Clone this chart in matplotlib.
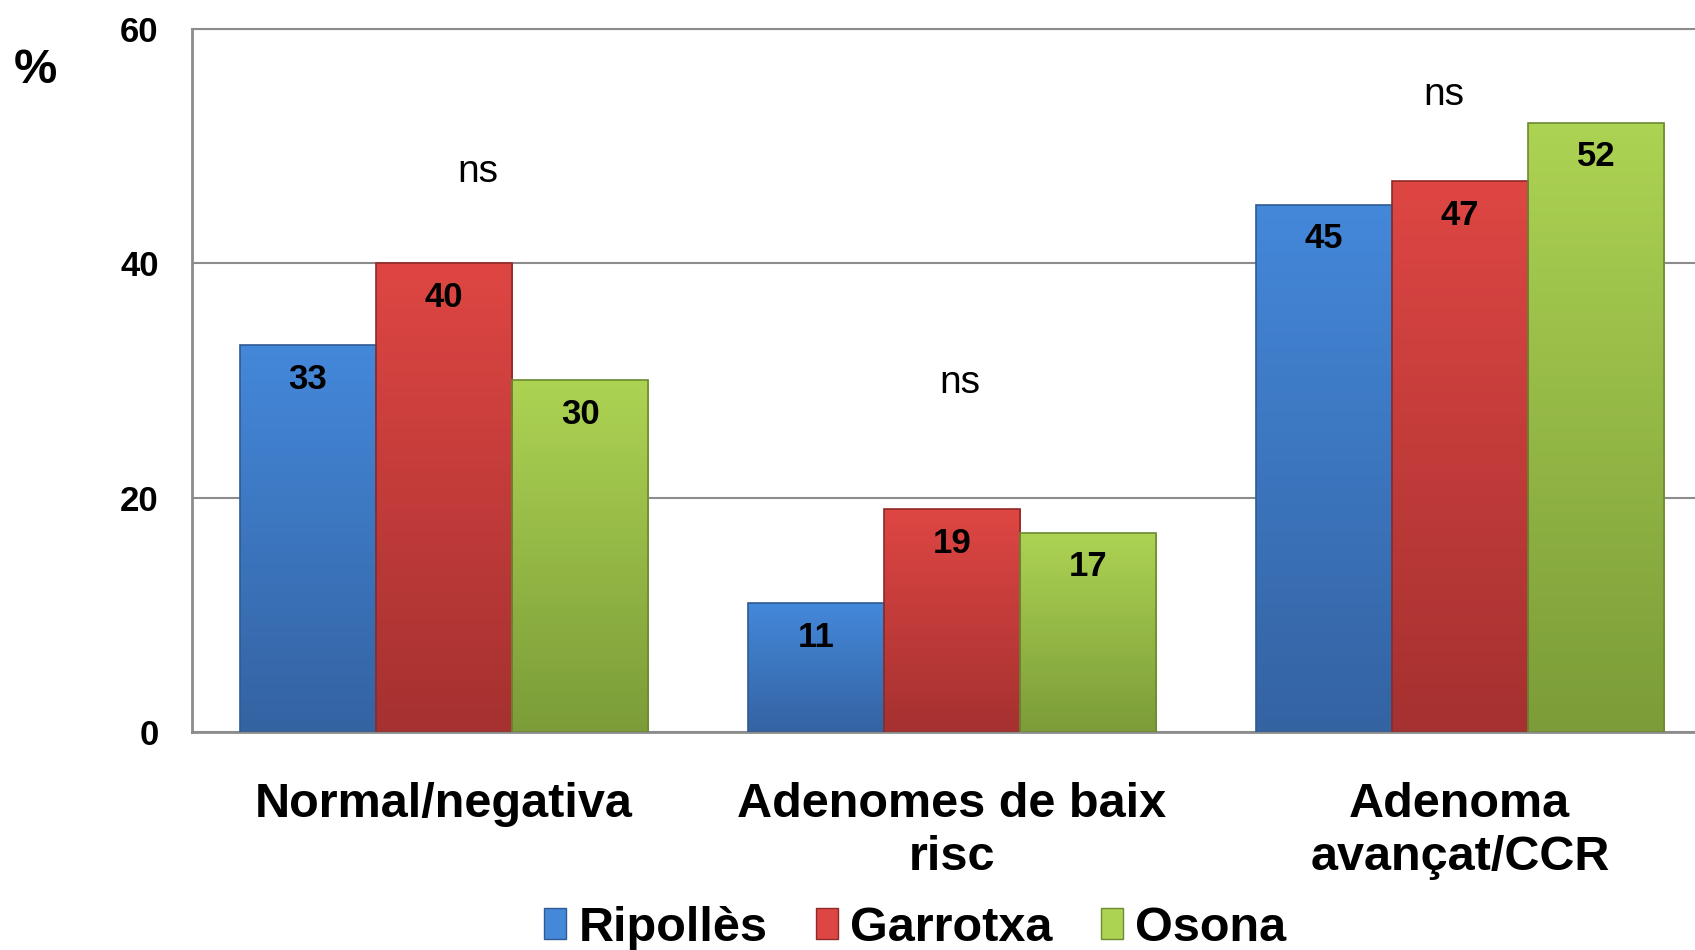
import numpy as np
import matplotlib.pyplot as plt
from matplotlib.colors import LinearSegmentedColormap
from matplotlib.patches import Patch

plt.rcParams['font.family'] = ['Liberation Sans', 'DejaVu Sans']

# Data
categories = ['Normal/negativa', 'Adenomes de baix\nrisc', 'Adenoma\navançat/CCR']
series = ['Ripollès', 'Garrotxa', 'Osona']
values = {
    'Ripollès': [33, 11, 45],
    'Garrotxa': [40, 19, 47],
    'Osona': [30, 17, 52],
}
ns_labels = ['ns', 'ns', 'ns']
ns_heights = [47.8, 29.8, 54.4]
yticks = [0, 20, 40, 60]

# colours: (top, bottom, edge)
colors = {
    'Ripollès': ('#4488DA', '#3463A2', '#2F5A92'),
    'Garrotxa': ('#DE4643', '#A53130', '#8E2A28'),
    'Osona': ('#ADD353', '#7B9C38', '#6C8A30'),
}

fig = plt.figure(figsize=(16.95, 9.5), dpi=100)
ax = fig.add_axes([0.1133, 0.2295, 0.8867, 0.7400])

x = np.arange(len(categories))
width = 0.268
offsets = [-width, 0, width]

for s, off in zip(series, offsets):
    top, bottom, edge = colors[s]
    cmap = LinearSegmentedColormap.from_list(s, [bottom, top])
    bars = ax.bar(x + off, values[s], width, facecolor='none', edgecolor=edge,
                  linewidth=1.2, zorder=3)
    for b, v in zip(bars, values[s]):
        x0, x1 = b.get_x(), b.get_x() + b.get_width()
        grad = np.linspace(0, 1, 256).reshape(-1, 1)
        im = ax.imshow(grad, cmap=cmap, origin='lower', aspect='auto',
                       extent=[x0, x1, 0, v], zorder=2)
        im.set_clip_path(b)
        ax.text(b.get_x() + b.get_width() / 2, v - 2.9, str(v), ha='center',
                va='center', fontsize=25, fontweight='bold', color='black', zorder=4)

for i, (lab, h) in enumerate(zip(ns_labels, ns_heights)):
    ax.text(i + [0.067, 0.016, -0.031][i], h, lab, ha='center', va='center', fontsize=28)

ax.set_xlim(-0.496, 2.463)
ax.set_ylim(0, 60)
ax.set_yticks(yticks)
ax.set_yticklabels([str(t) for t in yticks], fontsize=25, fontweight='bold')
ax.tick_params(axis='y', length=0, pad=24)
ax.set_xticks(x)
ax.set_xticklabels(categories, fontsize=35, fontweight='bold', va='top', linespacing=1.22)
ax.tick_params(axis='x', length=0, pad=36)
ax.yaxis.grid(True, color='#8C8C8C', linewidth=1.5, zorder=1)
ax.set_axisbelow(True)
for side in ['left', 'bottom']:
    ax.spines[side].set_color('#8C8C8C')
    ax.spines[side].set_linewidth(2)
ax.spines['top'].set_color('#8C8C8C')
ax.spines['top'].set_linewidth(1.5)
ax.spines['right'].set_visible(False)

fig.text(0.021, 0.926, '%', fontsize=35, fontweight='bold', ha='center', va='center')

handles = [Patch(facecolor=colors[s][0], edgecolor=colors[s][2]) for s in series]
fig.legend(handles, series, loc='center', bbox_to_anchor=(0.54, 0.023), ncol=3,
           frameon=False, prop={'size': 35, 'weight': 'bold'}, handlelength=0.45,
           handleheight=0.6, handletextpad=0.25, columnspacing=1.0)

fig.savefig('out.png', dpi=100)
